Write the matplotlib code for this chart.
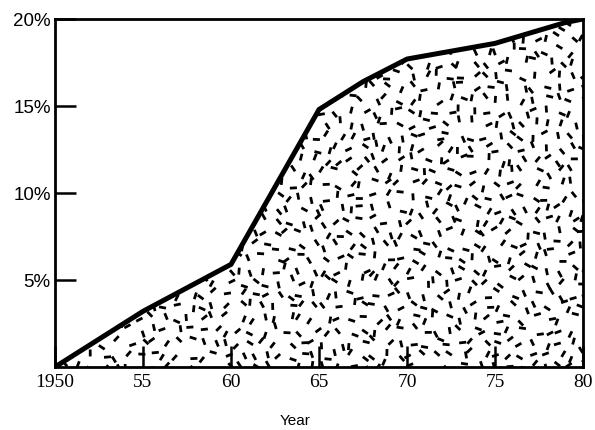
import numpy as np
import matplotlib

matplotlib.use('Agg')

import matplotlib.pyplot as plt
from matplotlib.collections import LineCollection

# data (share, percent)
years = [1950, 1955, 1960, 1965, 1967.5, 1970, 1975, 1979, 1980]
share = [0.0, 3.2, 5.9, 14.8, 16.4, 17.7, 18.6, 19.8, 20.0]

xticks = [1950, 1955, 1960, 1965, 1970, 1975, 1980]
xlabels = ['1950', '55', '60', '65', '70', '75', '80']
yticks = [5, 10, 15, 20]
ylabels = ['5%', '10%', '15%', '20%']

fig = plt.figure(figsize=(5.95, 4.3), dpi=100)
ax = fig.add_axes([0.0924, 0.1465, 0.8876, 0.8093])

# filled area, white with random dash texture
poly = ax.fill_between(years, share, 0, facecolor='white', edgecolor='none', zorder=1)

# texture of short dashes (decoration only), jittered grid, clipped to area
rng = np.random.default_rng(11)
step = 0.7
segs = []
for gx in np.arange(1950, 1980.5, step):
    for gy in np.arange(0, 20.5, step):
        cx = gx + rng.uniform(-0.28, 0.28)
        cy = gy + rng.uniform(-0.28, 0.28)
        a = rng.uniform(0, np.pi)
        h = 0.2
        segs.append([(cx - h * np.cos(a), cy - h * np.sin(a)),
                     (cx + h * np.cos(a), cy + h * np.sin(a))])
lc = LineCollection(segs, colors='black', linewidths=2.0, capstyle='butt', zorder=2)
ax.add_collection(lc)
lc.set_clip_path(poly.get_paths()[0], ax.transData)

ax.plot(years, share, color='black', linewidth=3.6, solid_joinstyle='miter', zorder=3)

ax.set_xlim(1950, 1980)
ax.set_ylim(0, 20)
for s in ax.spines.values():
    s.set_linewidth(2.0)

ax.set_xticks(xticks)
ax.set_xticklabels(xlabels, fontfamily='Liberation Serif', fontsize=14)
ax.set_yticks(yticks)
ax.set_yticklabels(ylabels, fontfamily='Liberation Sans', fontsize=13.5)
ax.tick_params(axis='both', direction='in', length=15, width=1.8, color='black')
ax.tick_params(axis='x', pad=5)
ax.tick_params(axis='y', pad=3)

fig.text(0.496, 0.021, 'Year', ha='center', va='center',
         fontfamily='Liberation Sans', fontsize=11)

plt.savefig('out.png', dpi=100)
